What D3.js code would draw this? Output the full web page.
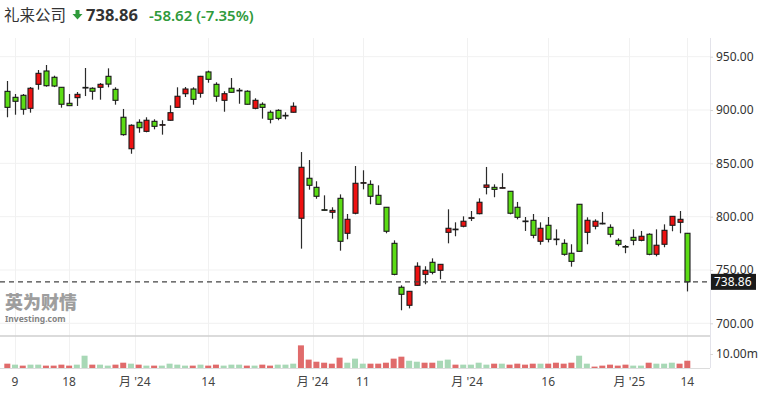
<!DOCTYPE html>
<html><head><meta charset="utf-8">
<script src="https://cdn.jsdelivr.net/npm/d3@7"></script>
<style>
html,body{margin:0;padding:0;background:#fff;}
svg{display:block;font-family:"Noto Sans","Noto Sans CJK SC",sans-serif;}
</style></head>
<body>
<svg id="c" width="775" height="399"></svg>
<script>
// ---- data ----
const opens  = [917.5,911.9,913.8,901.6,924.1,936.6,930.7,921.3,906.3,911.6,921.0,920.4,921.3,931.6,919.4,893.2,863.7,888.5,880.0,889.4,886.0,890.4,902.5,915.3,919.7,915.7,935.7,924.1,909.1,920.4,918.3,917.6,901.6,905.4,897.9,899.7,894.8,897.9,798.5,836.0,827.5,806.5,804.1,817.2,784.4,803.2,831.7,830.3,820.0,808.8,775.0,733.8,716.9,735.6,745.9,757.2,749.7,785.3,788.3,791.0,798.8,802.8,827.5,827.5,827.0,823.8,808.8,795.9,796.6,776.9,791.9,779.0,775.0,765.7,811.6,785.3,791.0,793.6,790.0,777.8,772.0,780.6,777.8,783.5,764.7,774.1,791.9,794.7,784.4];
const highs  = [927.2,915.0,915.0,921.6,937.5,942.2,932.2,921.5,915.0,916.9,939.4,921.3,925.3,939.1,921.3,901.0,886.6,891.3,893.2,891.3,890.4,904.4,921.3,921.6,921.3,932.0,936.9,926.0,917.6,930.0,920.6,918.5,911.0,907.2,899.7,900.7,897.9,907.2,860.6,853.1,833.2,820.0,808.8,820.9,802.5,847.5,843.5,834.1,829.4,809.0,777.8,735.6,730.2,757.2,753.5,760.9,755.5,806.9,794.7,800.3,805.3,817.2,846.6,830.3,840.7,824.0,813.8,799.7,802.5,794.7,799.7,788.1,778.8,774.1,811.8,799.4,797.5,804.4,792.8,779.7,773.4,788.1,786.6,784.4,788.1,792.8,800.5,805.3,784.6];
const lows   = [893.2,895.6,895.6,897.5,919.1,921.9,921.5,902.2,904.1,903.8,913.1,909.7,909.7,921.3,905.0,875.9,859.0,878.7,879.1,881.9,876.9,890.0,902.2,912.2,905.0,911.6,925.6,907.8,898.4,916.4,905.9,905.2,900.7,891.9,887.5,890.4,891.3,897.7,770.0,825.3,816.8,805.8,798.1,768.1,778.8,802.2,825.6,811.6,811.4,784.4,745.0,712.2,714.0,735.4,736.6,745.9,741.3,775.0,781.6,790.0,795.9,802.2,820.9,818.2,826.6,802.2,797.5,786.6,779.7,773.7,775.9,773.2,763.4,753.1,767.3,774.1,788.1,792.8,780.6,772.2,765.7,773.2,776.9,763.8,762.8,771.3,786.3,784.4,729.9];
const closes = [902.5,908.2,900.7,920.4,934.4,922.8,922.5,905.4,904.1,914.7,921.2,917.6,924.1,924.3,909.1,876.9,885.7,883.4,890.4,884.7,886.3,897.5,912.9,919.7,910.0,931.6,928.8,912.9,915.3,916.6,918.5,905.4,909.1,902.5,891.3,892.2,895.0,903.5,846.3,829.4,819.1,806.3,805.9,776.9,797.5,831.3,831.9,819.1,811.6,786.3,745.9,727.2,730.0,753.5,749.7,747.8,755.3,789.1,788.1,795.7,799.0,813.5,829.7,825.6,827.2,803.2,799.4,795.7,782.5,789.1,778.8,778.6,764.7,758.1,767.5,796.6,795.7,793.8,783.5,774.1,771.8,777.8,781.6,764.7,773.2,787.2,800.3,797.5,738.86];
// volume in millions
const volumes = [3.1,2.4,1.7,2.4,2.4,1.7,1.7,2.4,1.7,2.4,8.8,2.4,2.4,1.7,2.4,3.8,3.1,2.4,1.7,1.7,1.7,3.1,2.4,1.7,1.7,2.4,1.7,2.4,1.7,2.4,2.4,1.7,1.7,2.4,1.7,2.4,2.4,3.1,16.2,6.0,4.5,3.8,3.1,7.4,3.8,6.7,
  3.1,3.1,3.1,3.8,6.7,8.1,5.2,4.5,3.8,3.8,5.2,6.0,2.4,2.4,2.4,3.8,2.4,3.1,3.1,2.4,3.1,2.4,3.1,3.1,3.1,3.8,3.1,3.8,8.8,3.1,1.0,1.7,2.4,1.7,2.4,1.7,1.7,3.8,3.1,3.1,3.8,3.1,5.2];
const priceTicks = [700,750,800,850,900,950];
const volTicks = [10];
const xTickIdx = [1,8,16.5,26,39.5,46,59.5,70,80.5,88];
const xTickLabels = ["9","18","月 '24","14","月 '24","11","月 '24","16","月 '25","14"];
const title = "礼来公司";
const lastPrice = 738.86;
const change = "-58.62";
const changePct = "(-7.35%)";

// ---- chart ----
const svg = d3.select("#c");
const plotR = 710, plotT = 38, volTop = 336, volBase = 368;
const x = d3.scaleLinear().domain([0, 88]).range([7.3, 687.3]);
const y = d3.scaleLinear().domain([700, 950]).range([323.3, 56.7]);
const yv = d3.scaleLinear().domain([0, 22.9]).range([volBase, volTop]);
const bw = 5;
const UP = "#ee1111", DOWN = "#5bdc14";

// grid
svg.append("g").selectAll("line").data(priceTicks).join("line")
  .attr("x1", 0).attr("x2", plotR).attr("y1", d => y(d)).attr("y2", d => y(d))
  .attr("stroke", "#f1f1f1");
svg.append("g").selectAll("line").data(xTickIdx).join("line")
  .attr("x1", d => Math.round(x(d)) + 0.5).attr("x2", d => Math.round(x(d)) + 0.5)
  .attr("y1", plotT).attr("y2", volBase).attr("stroke", "#f1f1f1");

// volume panel lines
svg.append("line").attr("x1", 0).attr("x2", plotR).attr("y1", volTop).attr("y2", volTop)
  .attr("stroke", "#cfcfcf").attr("stroke-width", 1.5);
svg.append("line").attr("x1", 0).attr("x2", plotR).attr("y1", volBase + 0.5).attr("y2", volBase + 0.5)
  .attr("stroke", "#dcdcdc");
svg.append("line").attr("x1", plotR + 0.5).attr("x2", plotR + 0.5).attr("y1", plotT).attr("y2", volBase)
  .attr("stroke", "#e3e3ea");

// watermark
svg.append("text").attr("x", 5).attr("y", 309).text("英为财情")
  .attr("font-family", "Noto Sans CJK SC").attr("font-weight", 900).attr("font-size", 18)
  .attr("fill", "#8e8e8e").attr("opacity", 0.85);
svg.append("text").attr("x", 5).attr("y", 322).text("Investing.com")
  .attr("font-weight", 700).attr("font-size", 8.5).attr("fill", "#6e6e6e").attr("opacity", 0.85);

// volume bars
const idx = d3.range(closes.length);
svg.append("g").selectAll("rect").data(idx).join("rect")
  .attr("x", i => x(i) - 3).attr("width", 6)
  .attr("y", i => yv(volumes[i])).attr("height", i => volBase - yv(volumes[i]))
  .attr("fill", i => {
    const up = i === 0 ? closes[0] >= opens[0] : closes[i] >= closes[i - 1];
    return up ? "#a8d8b6" : "#e06b6b";
  });

// candles
const cg = svg.append("g");
cg.selectAll("line").data(idx).join("line")
  .attr("x1", i => Math.round(x(i)) + 0.5).attr("x2", i => Math.round(x(i)) + 0.5)
  .attr("y1", i => y(highs[i])).attr("y2", i => y(lows[i]))
  .attr("stroke", "#2b2b2b").attr("stroke-width", 1.2);
cg.selectAll("rect").data(idx).join("rect")
  .attr("x", i => Math.round(x(i)) + 0.5 - bw / 2).attr("width", bw)
  .attr("y", i => y(Math.max(opens[i], closes[i])))
  .attr("height", i => Math.max(0.6, Math.abs(y(opens[i]) - y(closes[i]))))
  .attr("fill", i => closes[i] >= opens[i] ? UP : DOWN)
  .attr("stroke", "#1a1a1a").attr("stroke-width", 1.1);

// last price dashed line
svg.append("line").attr("x1", 0).attr("x2", plotR).attr("y1", y(lastPrice)).attr("y2", y(lastPrice))
  .attr("stroke", "#444").attr("stroke-width", 1.2).attr("stroke-dasharray", "5,4");

// y axis
const ya = svg.append("g").attr("transform", `translate(${plotR},0)`)
  .call(d3.axisRight(y).tickValues(priceTicks).tickFormat(d3.format(".2f")).tickSize(3).tickPadding(3));
ya.select(".domain").remove();
ya.selectAll("line").attr("stroke", "#d8d8d8");
ya.selectAll("text").attr("font-size", 12).attr("fill", "#333").attr("font-family", "Noto Sans");

const va = svg.append("g").attr("transform", `translate(${plotR},0)`)
  .call(d3.axisRight(yv).tickValues(volTicks).tickFormat(d => d3.format(".2f")(d) + "m").tickSize(3).tickPadding(3));
va.select(".domain").remove();
va.selectAll("line").attr("stroke", "#d8d8d8");
va.selectAll("text").attr("font-size", 12).attr("fill", "#333").attr("font-family", "Noto Sans");

// price label box
svg.append("rect").attr("x", plotR + 1).attr("y", y(lastPrice) - 8).attr("width", 45).attr("height", 16)
  .attr("fill", "#1b1b1b");
svg.append("text").attr("x", plotR + 4).attr("y", y(lastPrice) + 4.5).text(d3.format(".2f")(lastPrice))
  .attr("font-size", 12).attr("fill", "#fff");

// x axis labels
svg.append("g").selectAll("text").data(xTickIdx).join("text")
  .attr("x", d => x(d)).attr("y", 386).attr("text-anchor", "middle")
  .attr("font-size", 12).attr("fill", "#444")
  .attr("font-family", "Noto Sans, Noto Sans CJK SC")
  .text((d, i) => xTickLabels[i]);

// header
svg.append("text").attr("x", 4).attr("y", 21).text(title)
  .attr("font-family", "Noto Sans CJK SC").attr("font-size", 15.5).attr("fill", "#333");
svg.append("path").attr("d", "M75.5,10 h4 v4 h3 l-5,5.5 l-5,-5.5 h3 z").attr("fill", "#2f9a3b");
svg.append("text").attr("x", 86).attr("y", 21).text(d3.format(".2f")(lastPrice))
  .attr("font-size", 16.5).attr("font-weight", 700).attr("fill", "#333");
svg.append("text").attr("x", 149).attr("y", 21).text(change + " " + changePct)
  .attr("font-size", 15).attr("font-weight", 600).attr("fill", "#2f9a3b");
</script>
</body></html>
